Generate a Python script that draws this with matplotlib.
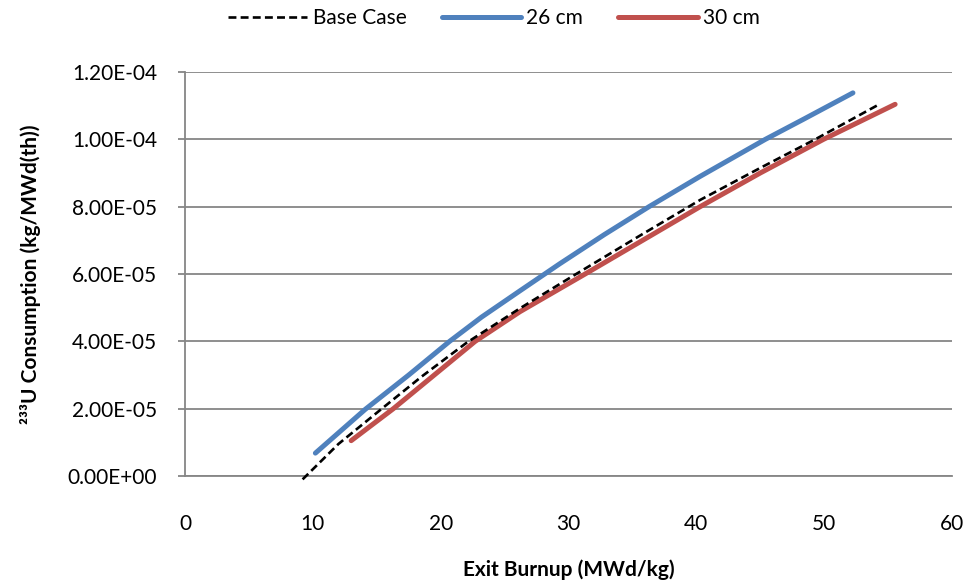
import matplotlib
matplotlib.use("Agg")
import matplotlib.pyplot as plt
from matplotlib.ticker import FuncFormatter

# Data (x: exit burnup MWd/kg, y: 233U consumption kg/MWd(th))
base_x = [9.2, 12.0, 15.4, 18.5, 22.0, 26.2, 30.6, 35.5, 40.3, 45.0, 49.3, 54.4]
base_y = [-0.1e-5, 0.95e-5, 2.0e-5, 2.95e-5, 3.95e-5, 4.98e-5, 6.0e-5, 7.12e-5, 8.2e-5, 9.15e-5, 10.0e-5, 11.06e-5]

cm26_x = [10.2, 12.0, 14.1, 17.5, 20.7, 23.2, 26.2, 29.3, 32.8, 36.3, 40.3, 45.4, 48.4, 52.25]
cm26_y = [0.68e-5, 1.28e-5, 1.98e-5, 3.0e-5, 4.0e-5, 4.72e-5, 5.5e-5, 6.3e-5, 7.17e-5, 8.0e-5, 8.9e-5, 10.0e-5, 10.6e-5, 11.38e-5]

cm30_x = [13.0, 16.3, 19.5, 22.7, 26.2, 31.3, 35.8, 40.3, 45.0, 49.95, 55.55]
cm30_y = [1.05e-5, 2.0e-5, 3.0e-5, 4.0e-5, 4.88e-5, 6.0e-5, 7.0e-5, 8.0e-5, 9.0e-5, 10.0e-5, 11.04e-5]

x_ticks = [0, 10, 20, 30, 40, 50, 60]
y_ticks = [0, 2e-5, 4e-5, 6e-5, 8e-5, 1.0e-4, 1.2e-4]

plt.rcParams['font.family'] = ['Lato', 'DejaVu Sans']
FS = 15

fig = plt.figure(figsize=(9.69, 5.88), dpi=100)
ax = fig.add_axes([185/969, 1-476/588, (952-185)/969, (476-72)/588])

grid_c = '#868686'
ax.plot(base_x, base_y, color='black', lw=1.9, ls=(0, (3, 1.6)), label='Base Case', zorder=4, clip_on=False)
ax.plot(cm26_x, cm26_y, color='#4F81BD', lw=3.6, solid_capstyle='round', label='26 cm', zorder=3)
ax.plot(cm30_x, cm30_y, color='#C0504D', lw=3.6, solid_capstyle='round', label='30 cm', zorder=3)

ax.set_xlim(0, 60)
ax.set_ylim(0, 1.2e-4)
ax.set_xticks(x_ticks)
ax.set_yticks(y_ticks)
ax.yaxis.set_major_formatter(FuncFormatter(lambda v, p: ('%.2E' % v)))
ax.grid(axis='y', color=grid_c, lw=1.3)
ax.set_axisbelow(True)
for s in ['top', 'right']:
    ax.spines[s].set_visible(False)
for s in ['left', 'bottom']:
    ax.spines[s].set_color(grid_c)
    ax.spines[s].set_linewidth(1.3)
ax.tick_params(axis='y', length=5, color=grid_c, width=1.3, pad=15, labelsize=FS)
ax.tick_params(axis='x', length=0, pad=27, labelsize=FS)

ax.set_xlabel('Exit Burnup (MWd/kg)', fontsize=FS, fontweight='bold', labelpad=19)
ax.set_ylabel('²³³U Consumption (kg/MWd(th))', fontsize=FS, fontweight='bold', labelpad=19)

leg = fig.legend(loc='center', bbox_to_anchor=(494/969, 1-18/588), ncol=3, frameon=False,
                 fontsize=FS, handlelength=3.8, handletextpad=0.25, columnspacing=1.7)

fig.savefig('out.png', dpi=100)
